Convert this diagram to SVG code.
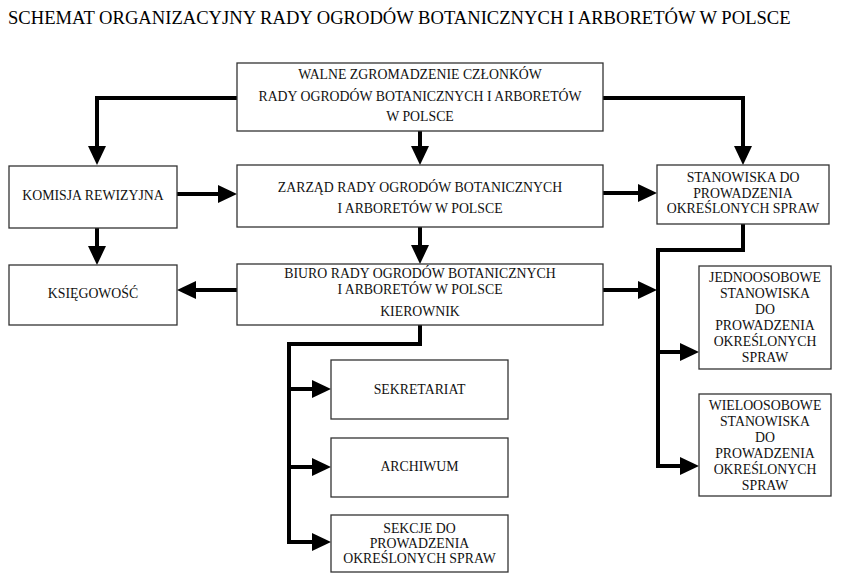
<svg xmlns="http://www.w3.org/2000/svg" width="841" height="587" viewBox="0 0 841 587">
<style>
.box{fill:#fff;stroke:#333;stroke-width:1.3}
text{font-family:"Liberation Serif","Times New Roman",serif;font-size:13.8px;fill:#111;text-anchor:middle}
.title{font-size:18.6px;text-anchor:start;fill:#000}
.c{fill:none;stroke:#000;stroke-width:4;stroke-linejoin:miter;stroke-linecap:butt}
</style>
<defs>
<marker id="ah" markerUnits="userSpaceOnUse" markerWidth="19" markerHeight="18" refX="13" refY="9" orient="auto" viewBox="0 0 19 18">
<path d="M0,0 L19,9 L0,18 z" fill="#000"/>
</marker>
</defs>
<rect width="841" height="587" fill="#fff"/>
<text class="title" x="8" y="24">SCHEMAT ORGANIZACYJNY RADY OGRODÓW BOTANICZNYCH I ARBORETÓW W POLSCE</text>

<g id="connectors">
<path class="c" d="M237,98 H97 V159" marker-end="url(#ah)"/>
<path class="c" d="M420,131 V159" marker-end="url(#ah)"/>
<path class="c" d="M603,98 H743 V159" marker-end="url(#ah)"/>
<path class="c" d="M177,194 H231" marker-end="url(#ah)"/>
<path class="c" d="M603,193 H651" marker-end="url(#ah)"/>
<path class="c" d="M420,227 V258" marker-end="url(#ah)"/>
<path class="c" d="M97,228 V259" marker-end="url(#ah)"/>
<path class="c" d="M237,290 H183" marker-end="url(#ah)"/>
<path class="c" d="M603,290 H651" marker-end="url(#ah)"/>
<path class="c" d="M743,224 V250 H658 V466 H693" marker-end="url(#ah)"/>
<path class="c" d="M658,352 H693" marker-end="url(#ah)"/>
<path class="c" d="M420,325 V344 H289 V542 H325" marker-end="url(#ah)"/>
<path class="c" d="M289,389 H325" marker-end="url(#ah)"/>
<path class="c" d="M289,467 H325" marker-end="url(#ah)"/>
</g>

<g id="walne">
<rect class="box" x="237" y="63" width="366" height="68"/>
<text x="420" y="79">WALNE ZGROMADZENIE CZŁONKÓW</text>
<text x="420" y="101">RADY OGRODÓW BOTANICZNYCH I ARBORETÓW</text>
<text x="420" y="121">W POLSCE</text>
</g>
<g id="komisja">
<rect class="box" x="9" y="166" width="168" height="62"/>
<text x="93" y="200">KOMISJA REWIZYJNA</text>
</g>
<g id="zarzad">
<rect class="box" x="237" y="165" width="366" height="62"/>
<text x="420" y="192">ZARZĄD RADY OGRODÓW BOTANICZNYCH</text>
<text x="420" y="213">I ARBORETÓW W POLSCE</text>
</g>
<g id="stanowiska">
<rect class="box" x="657" y="165" width="172" height="59"/>
<text x="743" y="182">STANOWISKA DO</text>
<text x="743" y="197.5">PROWADZENIA</text>
<text x="743" y="213">OKREŚLONYCH SPRAW</text>
</g>
<g id="ksiegowosc">
<rect class="box" x="9" y="265" width="168" height="60"/>
<text x="93" y="298">KSIĘGOWOŚĆ</text>
</g>
<g id="biuro">
<rect class="box" x="237" y="264" width="366" height="61"/>
<text x="420" y="278">BIURO RADY OGRODÓW BOTANICZNYCH</text>
<text x="420" y="294">I ARBORETÓW W POLSCE</text>
<text x="420" y="316">KIEROWNIK</text>
</g>
<g id="jednoosobowe">
<rect class="box" x="699" y="266" width="132" height="103"/>
<text x="765" y="282">JEDNOOSOBOWE</text>
<text x="765" y="298">STANOWISKA</text>
<text x="765" y="314">DO</text>
<text x="765" y="330">PROWADZENIA</text>
<text x="765" y="346">OKREŚLONYCH</text>
<text x="765" y="362">SPRAW</text>
</g>
<g id="wieloosobowe">
<rect class="box" x="699" y="394" width="132" height="102"/>
<text x="765" y="410">WIELOOSOBOWE</text>
<text x="765" y="426">STANOWISKA</text>
<text x="765" y="442">DO</text>
<text x="765" y="458">PROWADZENIA</text>
<text x="765" y="474">OKREŚLONYCH</text>
<text x="765" y="490">SPRAW</text>
</g>
<g id="sekretariat">
<rect class="box" x="331" y="360" width="177" height="59"/>
<text x="419.5" y="394">SEKRETARIAT</text>
</g>
<g id="archiwum">
<rect class="box" x="331" y="438" width="177" height="59"/>
<text x="419.5" y="471">ARCHIWUM</text>
</g>
<g id="sekcje">
<rect class="box" x="331" y="515" width="177" height="57"/>
<text x="419.5" y="533">SEKCJE DO</text>
<text x="419.5" y="548">PROWADZENIA</text>
<text x="419.5" y="563">OKREŚLONYCH SPRAW</text>
</g>
</svg>
